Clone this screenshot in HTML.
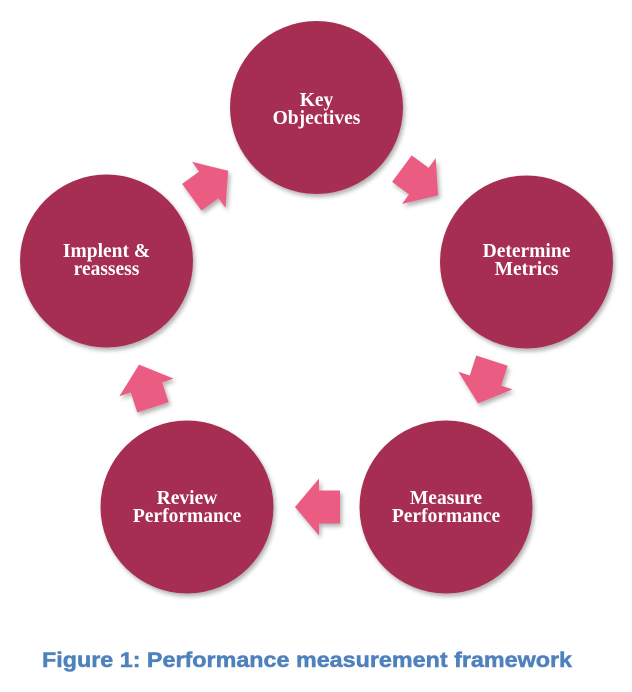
<!DOCTYPE html>
<html>
<head>
<meta charset="utf-8">
<style>
  html, body { margin: 0; padding: 0; background: #ffffff; }
  body { width: 632px; height: 692px; overflow: hidden; }
  svg { display: block; }
  .lbl { font-family: "Liberation Serif", serif; font-weight: bold; font-size: 19.5px; fill: #ffffff; }
  .cap { font-family: "Liberation Sans", sans-serif; font-weight: bold; font-size: 21px; fill: #4f81bd; stroke: #4f81bd; stroke-width: 0.5px; }
</style>
</head>
<body>
<svg width="632" height="692" viewBox="0 0 632 692" xmlns="http://www.w3.org/2000/svg">
  <defs>
    <filter id="sh" x="-20%" y="-20%" width="140%" height="140%">
      <feDropShadow dx="2" dy="3" stdDeviation="2" flood-color="#000" flood-opacity="0.3"/>
    </filter>
    <polygon id="arr" points="-22.5,-16.5 -1.5,-16.5 -1.5,-28.5 22.5,0 -1.5,28.5 -1.5,16.5 -22.5,16.5"/>
  </defs>

  <!-- circles -->
  <g fill="#a72e53" filter="url(#sh)">
    <circle cx="316.5" cy="107.5" r="86.5"/>
    <circle cx="526.5" cy="262" r="86.5"/>
    <circle cx="446" cy="507" r="86.5"/>
    <circle cx="187" cy="507" r="86.5"/>
    <circle cx="106.5" cy="261" r="86.5"/>
  </g>

  <!-- arrows -->
  <g fill="#eb5b83" filter="url(#sh)">
    <use href="#arr" transform="translate(420,182) rotate(36.4)"/>
    <use href="#arr" transform="translate(485,382) rotate(108)"/>
    <use href="#arr" transform="translate(317.5,507) rotate(180)"/>
    <use href="#arr" transform="translate(146,386) rotate(-108)"/>
    <use href="#arr" transform="translate(210,184) rotate(-36)"/>
  </g>

  <!-- labels -->
  <g class="lbl" text-anchor="middle">
    <text x="316.5" y="106">Key</text>
    <text x="316.5" y="124">Objectives</text>

    <text x="526.5" y="257">Determine</text>
    <text x="526.5" y="275">Metrics</text>

    <text x="446" y="504">Measure</text>
    <text x="446" y="522">Performance</text>

    <text x="187" y="504">Review</text>
    <text x="187" y="522">Performance</text>

    <text x="106.5" y="257">Implent &amp;</text>
    <text x="106.5" y="275">reassess</text>
  </g>

  <!-- caption -->
  <text class="cap" x="42" y="667" textLength="530" lengthAdjust="spacingAndGlyphs">Figure 1: Performance measurement framework</text>
</svg>
</body>
</html>
